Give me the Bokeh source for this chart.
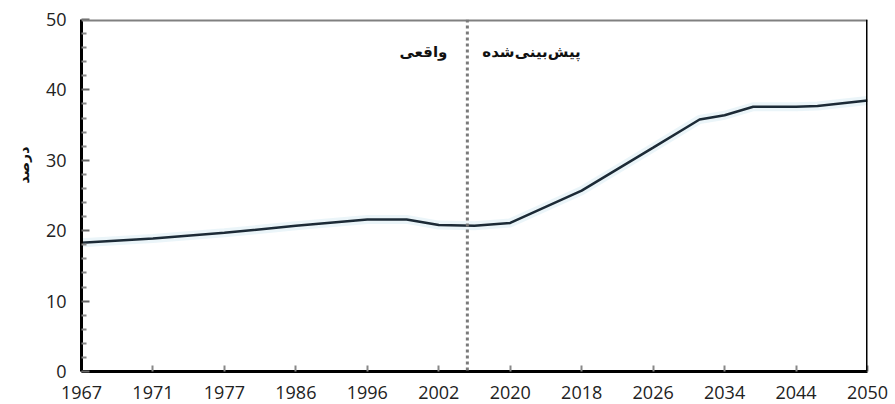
from bokeh.plotting import figure
from bokeh.models import FixedTicker, Span, Label, Range1d, Title
from bokeh.embed import file_html
from bokeh.resources import INLINE

# ---- data ----
years = ["1967", "1971", "1977", "1986", "1996", "2002", "2020", "2018", "2026", "2034", "2044", "2050"]
# line positions (category index, fractional between categories) and percentage values
line_pos = [0, 1, 2, 3, 4, 4.55, 5, 5.5, 6, 7, 8, 8.65, 9, 9.4, 10, 10.3, 11]
line_val = [18.3, 18.9, 19.7, 20.7, 21.6, 21.6, 20.8, 20.7, 21.1, 25.7, 31.8, 35.8, 36.4, 37.6, 37.6, 37.7, 38.5]
divider_pos = 5.4
y_ticks = [0, 10, 20, 30, 40, 50]
label_actual = "واقعی"
label_forecast = "پیش\u200cبینی\u200cشده"
y_title = "درصد"

FONT = "Open Sans"
AR_FONT = "DejaVu Sans"

p = figure(frame_width=786, frame_height=352,
           x_range=Range1d(0, len(years) - 1), y_range=Range1d(0, 50),
           output_backend="svg", toolbar_location=None,
           min_border_left=81, min_border_top=19, min_border_right=26, min_border_bottom=32,
           background_fill_color="white", border_fill_color="white")
p.outline_line_color = None
p.grid.visible = False

# x axis
xa = p.xaxis[0]
xa.ticker = FixedTicker(ticks=list(range(len(years))), minor_ticks=[])
xa.major_label_overrides = {i: y for i, y in enumerate(years)}
xa.axis_line_color = "black"
xa.axis_line_width = 3
xa.major_tick_in = 6
xa.major_tick_out = 0
xa.major_tick_line_color = "#888888"
xa.major_tick_line_width = 2
xa.minor_tick_in = 0
xa.minor_tick_out = 0
xa.major_label_standoff = 14
xa.major_label_text_font = FONT
xa.major_label_text_font_size = "18px"
xa.major_label_text_color = "#222222"

# y axis
ya = p.yaxis[0]
ya.ticker = FixedTicker(ticks=y_ticks, minor_ticks=[v for v in range(0, 51, 2) if v % 10])
ya.axis_line_color = "black"
ya.axis_line_width = 3
ya.major_tick_in = 8
ya.major_tick_out = 0
ya.major_tick_line_color = "#666666"
ya.major_tick_line_width = 2
ya.minor_tick_in = 5
ya.minor_tick_out = 0
ya.minor_tick_line_color = "#888888"
ya.minor_tick_line_width = 2
ya.major_label_standoff = 15
ya.major_label_text_font = FONT
ya.major_label_text_font_size = "18px"
ya.major_label_text_color = "#222222"

# y title as a left-side title, shifted up
p.add_layout(Title(text=y_title, align="left", offset=188,
                   text_font=AR_FONT, text_font_style="bold", text_font_size="14px",
                   text_color="#111111", standoff=22), "left")

# frame borders
p.add_layout(Span(location=50, dimension="width", line_color="#808080", line_width=4))
p.add_layout(Span(location=len(years) - 1, dimension="height", line_color="black", line_width=3))

# divider between actual and forecast
p.add_layout(Span(location=divider_pos, dimension="height", line_color="#7a7a7a",
                  line_width=3, line_dash="3 3"))

# line with a faint halo
p.line(line_pos, line_val, line_color="#e6f3f8", line_width=9, line_alpha=0.8)
p.line(line_pos, line_val, line_color="#1c2a36", line_width=2.5)

p.add_layout(Label(x=divider_pos, y=45.4, x_offset=-20, text=label_actual,
                   text_align="right", text_baseline="middle",
                   text_font=AR_FONT, text_font_style="bold", text_font_size="15px",
                   text_color="#111111"))
p.add_layout(Label(x=divider_pos, y=45.4, x_offset=15, text=label_forecast,
                   text_align="left", text_baseline="middle",
                   text_font=AR_FONT, text_font_style="bold", text_font_size="15px",
                   text_color="#111111"))

open("out.html", "w").write(file_html(p, INLINE))
